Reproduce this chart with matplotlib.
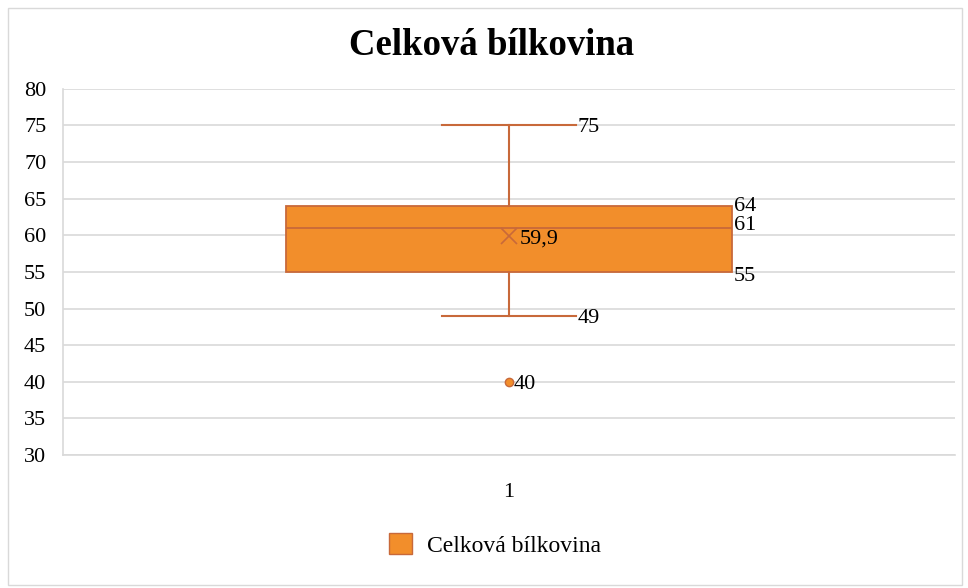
import matplotlib
matplotlib.use("Agg")
import matplotlib.pyplot as plt
from matplotlib.patches import Rectangle

plt.rcParams['font.family'] = ['Liberation Serif', 'DejaVu Serif']

title = "Celková bílkovina"
category = "1"
q1, median, q3 = 55, 61, 64
whisker_low, whisker_high = 49, 75
mean = 59.9
outliers = [40]
y_ticks = [30, 35, 40, 45, 50, 55, 60, 65, 70, 75, 80]

fill = '#F28E2B'
edge = '#C8693A'

fig = plt.figure(figsize=(9.68, 5.88), dpi=100)
fig.patches.append(Rectangle((0.008, 0.005), 0.986, 0.982, transform=fig.transFigure,
                             fill=False, edgecolor='#D9D9D9', lw=1))
ax = fig.add_axes([0.065, 0.226, 0.922, 0.623])

stats = [dict(label=category, q1=q1, med=median, q3=q3, whislo=whisker_low,
              whishi=whisker_high, mean=mean, fliers=outliers)]
ax.bxp(stats, positions=[1], widths=0.5, showmeans=True, patch_artist=True,
       boxprops=dict(facecolor=fill, edgecolor=edge, lw=1.3),
       medianprops=dict(color=edge, lw=1.3),
       whiskerprops=dict(color=edge, lw=1.5),
       capprops=dict(color=edge, lw=1.5), capwidths=0.15,
       meanprops=dict(marker='x', markeredgecolor=edge, markersize=11, mew=1.2),
       flierprops=dict(marker='o', markerfacecolor=fill, markeredgecolor=edge,
                       markersize=6))

ax.set_xlim(0.5, 1.5)
ax.set_ylim(30, 80)
ax.set_yticks(y_ticks)
ax.tick_params(axis='y', length=0, labelsize=16, pad=12)
ax.tick_params(axis='x', length=0, labelsize=16, pad=20)
ax.yaxis.grid(True, color='#D9D9D9', lw=1.2)
ax.set_axisbelow(True)
for s in ['top', 'right']:
    ax.spines[s].set_visible(False)
for s in ['left', 'bottom']:
    ax.spines[s].set_color('#D9D9D9')
    ax.spines[s].set_linewidth(1.2)

# data labels
lab = dict(fontsize=16, va='center_baseline', ha='left')
ax.text(1.077, whisker_high, f"{whisker_high}", **lab)
ax.text(1.077, whisker_low, f"{whisker_low}", **lab)
ax.text(1.252, q3 + 0.3, f"{q3}", **lab)
ax.text(1.252, median + 0.7, f"{median}", **lab)
ax.text(1.252, q1 - 0.3, f"{q1}", **lab)
ax.text(1.012, mean, f"{mean}".replace('.', ','), **lab)
for v in outliers:
    ax.text(1.005, v, f"{v}", **lab)

fig.text(0.508, 0.923, title, ha='center', va='center', fontsize=26.5, fontweight='bold')

handle = Rectangle((0, 0), 1, 1, facecolor=fill, edgecolor=edge)
fig.legend([handle], [title], loc='center', bbox_to_anchor=(0.511, 0.073),
           frameon=False, fontsize=17, handlelength=1.0, handleheight=1.0,
           handletextpad=0.6)

fig.savefig("out.png", dpi=100)
